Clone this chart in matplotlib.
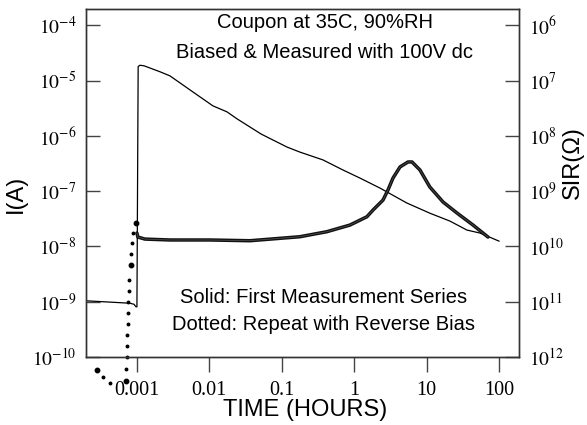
import numpy as np
import matplotlib
matplotlib.use("Agg")
import matplotlib.pyplot as plt
import matplotlib.ticker as ticker

plt.rcParams['font.family'] = ['Liberation Sans', 'DejaVu Sans']
plt.rcParams['mathtext.fontset'] = 'stix'

# solid: first measurement series (time in hours, current in A)
t_solid = [1.98e-4, 8.0e-4, 9.1e-4, 9.7e-4, 1.0e-3, 1.04e-3, 1.10e-3, 1.25e-3,
           2.08e-3, 2.86e-3, 4.91e-3, 7.41e-3, 0.0112, 0.0175, 0.0241, 0.052,
           0.118, 0.178, 0.371, 0.70, 1.20, 2.27, 5.36, 11.1, 21.0,
           36.1, 54.6, 100]
i_solid = [1.04e-9, 9.4e-10, 9.0e-10, 8.1e-10, 8.1e-10, 1.8e-5, 1.9e-5, 1.86e-5,
           1.45e-5, 1.22e-5, 7.43e-6, 5.1e-6, 3.5e-6, 2.73e-6, 2.04e-6, 1.08e-6,
           6.3e-7, 5.1e-7, 3.68e-7, 2.42e-7, 1.73e-7, 1.14e-7, 6.1e-8,
           4.0e-8, 2.88e-8, 1.98e-8, 1.75e-8, 1.25e-8]

# dotted: repeat with reverse bias, early sparse points
t_dots = [2.81e-4, 3.39e-4, 4.24e-4, 7.05e-4, 7.11e-4, 7.18e-4, 7.27e-4, 7.34e-4,
          7.44e-4, 7.51e-4, 7.64e-4, 7.76e-4, 7.88e-4, 8.18e-4, 8.39e-4, 8.67e-4,
          8.95e-4, 9.59e-4]
i_dots = [5.75e-11, 4.3e-11, 3.34e-11, 3.63e-11, 6.0e-11, 9.9e-11, 1.56e-10,
          2.48e-10, 3.92e-10, 6.2e-10, 9.8e-10, 1.55e-9, 2.46e-9, 4.6e-9,
          7.3e-9, 1.15e-8, 1.75e-8, 2.65e-8]
big_dots = [0, 3, 13, 17]

# dotted: dense part
t_rev = [1.0e-3, 1.03e-3, 1.29e-3, 2.86e-3, 0.0102, 0.0364, 0.178, 0.42, 0.875,
         1.50, 1.82, 2.50, 2.93, 3.44, 4.30, 5.54, 6.29, 8.10, 11.1, 16.9,
         26.3, 43.8, 70.5]
i_rev = [1.75e-8, 1.48e-8, 1.36e-8, 1.31e-8, 1.31e-8, 1.27e-8, 1.50e-8, 1.85e-8,
         2.44e-8, 3.45e-8, 4.56e-8, 6.9e-8, 1.05e-7, 1.73e-7, 2.75e-7, 3.38e-7,
         3.38e-7, 2.42e-7, 1.19e-7, 6.37e-8, 4.03e-8, 2.44e-8, 1.48e-8]

x_ticks = [1e-3, 1e-2, 1e-1, 1, 10, 100]
x_labels = ['0.001', '0.01', '0.1', '1', '10', '100']
bias_v = 100.0

xmin, xmax = 1.98e-4, 189
ymin, ymax = 1e-10, 1.98e-4

fig = plt.figure(figsize=(5.87, 4.25), dpi=100)
ax = fig.add_axes([86 / 587, 1 - 357 / 425, (519 - 86) / 587, (357 - 9) / 425])

ax.plot(t_solid, i_solid, color='black', lw=0.9)
ax.plot(t_rev, i_rev, color='#111111', lw=2.5, solid_capstyle='round')
ax.plot(t_rev, i_rev, color='#555555', lw=0.5)
small = [k for k in range(len(t_dots)) if k not in big_dots]
ax.plot([t_dots[k] for k in small], [i_dots[k] for k in small], 'o',
        color='black', ms=1.8, clip_on=False)
ax.plot([t_dots[k] for k in big_dots], [i_dots[k] for k in big_dots], 'o',
        color='black', ms=3.2, clip_on=False)

ax.set_xscale('log')
ax.set_yscale('log')
ax.set_xlim(xmin, xmax)
ax.set_ylim(ymin, ymax)
ax.set_xticks(x_ticks, x_labels, fontfamily='Liberation Serif', fontsize=14.5)
ax.xaxis.set_minor_locator(ticker.NullLocator())
ax.yaxis.set_major_locator(ticker.FixedLocator([10.0 ** k for k in range(-10, -3)]))
ax.yaxis.set_major_formatter(ticker.FuncFormatter(lambda v, p: r'$10^{%d}$' % round(np.log10(v))))
ax.yaxis.set_minor_locator(ticker.NullLocator())
ax.tick_params(axis='x', direction='out', length=11, width=1, color='#444444', pad=6)
ax.tick_params(axis='y', direction='in', length=10, width=1, color='#444444', pad=7,
               labelsize=14)
for s in ax.spines.values():
    s.set_color('#333333')
    s.set_linewidth(1)

ax2 = ax.twinx()
ax2.set_yscale('log')
ax2.set_ylim(bias_v / ymin, bias_v / ymax)
ax2.yaxis.set_major_locator(ticker.FixedLocator([10.0 ** k for k in range(6, 13)]))
ax2.yaxis.set_major_formatter(ticker.FuncFormatter(lambda v, p: r'$10^{%d}$' % round(np.log10(v))))
ax2.yaxis.set_minor_locator(ticker.NullLocator())
ax2.tick_params(axis='y', direction='in', length=10, width=1, color='#444444', pad=7,
                labelsize=14)
for s in ax2.spines.values():
    s.set_color('#333333')
    s.set_linewidth(1)

ax.set_ylabel('I(A)', fontsize=17)
ax.yaxis.set_label_coords(-0.136, 0.468)
ax2.set_ylabel('SIR(Ω)', fontsize=17)
ax2.yaxis.set_label_coords(1.098, 0.56)
ax.set_xlabel('TIME (HOURS)', fontsize=17, labelpad=0)
ax.xaxis.set_label_coords(0.506, -0.122)

ax.text(0.551, 0.960, 'Coupon at 35C, 90%RH', transform=ax.transAxes,
        ha='center', va='center', fontsize=14.5)
ax.text(0.551, 0.876, 'Biased & Measured with 100V dc', transform=ax.transAxes,
        ha='center', va='center', fontsize=14.5)
ax.text(0.549, 0.170, 'Solid: First Measurement Series', transform=ax.transAxes,
        ha='center', va='center', fontsize=14.5)
ax.text(0.549, 0.092, 'Dotted: Repeat with Reverse Bias', transform=ax.transAxes,
        ha='center', va='center', fontsize=14.5)

fig.savefig('out.png', dpi=100)
